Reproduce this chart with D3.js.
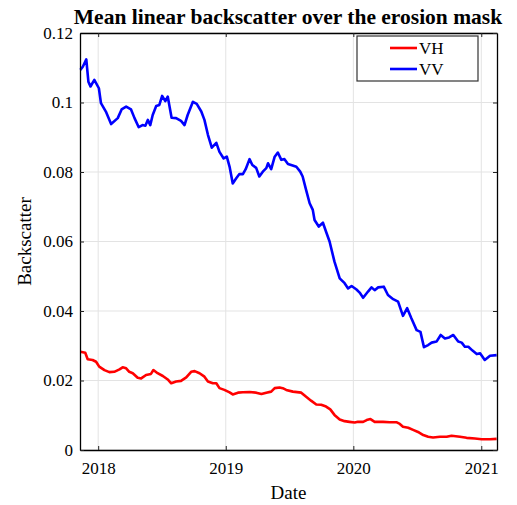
<!DOCTYPE html>
<html>
<head>
<meta charset="utf-8">
<script src="https://cdn.jsdelivr.net/npm/d3@7"></script>
<style>
  body { margin: 0; background: #fff; }
  svg { font-family: "Liberation Serif", "Times New Roman", serif; }
</style>
</head>
<body>
<div id="container"></div>
<script>
// series
const vhDates = ["2017-11-11","2017-11-25","2017-12-02","2017-12-16","2017-12-26","2018-01-04","2018-01-19","2018-02-02","2018-02-16","2018-03-03","2018-03-12","2018-03-22","2018-03-31","2018-04-10","2018-04-24","2018-05-04","2018-05-18","2018-06-01","2018-06-08","2018-06-20","2018-07-05","2018-07-19","2018-07-29","2018-08-12","2018-08-26","2018-09-10","2018-09-24","2018-10-04","2018-10-18","2018-11-01","2018-11-11","2018-11-25","2018-12-05","2018-12-14","2018-12-28","2019-01-12","2019-01-21","2019-02-05","2019-02-19","2019-03-10","2019-03-29","2019-04-13","2019-04-27","2019-05-11","2019-05-21","2019-06-04","2019-06-13","2019-06-23","2019-07-12","2019-08-05","2019-08-19","2019-09-02","2019-09-17","2019-10-01","2019-10-15","2019-10-27","2019-11-08","2019-11-23","2019-12-07","2019-12-21","2020-01-05","2020-01-14","2020-01-29","2020-02-08","2020-02-19","2020-03-02","2020-03-26","2020-04-14","2020-05-03","2020-05-13","2020-05-22","2020-06-06","2020-06-20","2020-07-04","2020-07-19","2020-08-02","2020-08-16","2020-09-05","2020-09-24","2020-10-08","2020-11-01","2020-11-20","2020-12-14","2021-01-02","2021-01-26","2021-02-14"];
const vhValues = [0.0283,0.0280,0.0261,0.0259,0.0254,0.0240,0.0230,0.0224,0.0225,0.0232,0.0238,0.0235,0.0225,0.0221,0.0208,0.0206,0.0216,0.0219,0.0230,0.0221,0.0213,0.0203,0.0192,0.0197,0.0199,0.0209,0.0225,0.0227,0.0221,0.0211,0.0197,0.0192,0.0192,0.0178,0.0173,0.0166,0.0160,0.0165,0.0166,0.0167,0.0165,0.0161,0.0165,0.0168,0.0178,0.0180,0.0178,0.0173,0.0168,0.0165,0.0153,0.0142,0.0131,0.0130,0.0125,0.0117,0.0101,0.0088,0.0083,0.0081,0.0079,0.0081,0.0081,0.0086,0.0089,0.0081,0.0081,0.0080,0.0080,0.0075,0.0067,0.0064,0.0058,0.0052,0.0043,0.0038,0.0036,0.0038,0.0038,0.0041,0.0038,0.0035,0.0033,0.0031,0.0031,0.0032];

const vvDates = ["2017-11-11","2017-11-18","2017-11-28","2017-12-04","2017-12-10","2017-12-21","2018-01-03","2018-01-09","2018-01-23","2018-02-07","2018-02-26","2018-03-09","2018-03-22","2018-04-05","2018-04-15","2018-04-27","2018-05-08","2018-05-16","2018-05-23","2018-05-30","2018-06-06","2018-06-16","2018-06-25","2018-07-03","2018-07-12","2018-07-19","2018-07-30","2018-08-12","2018-08-26","2018-09-05","2018-09-14","2018-09-29","2018-10-10","2018-10-23","2018-11-01","2018-11-11","2018-11-22","2018-12-05","2018-12-14","2018-12-26","2019-01-04","2019-01-12","2019-01-21","2019-01-31","2019-02-09","2019-02-19","2019-02-27","2019-03-10","2019-03-18","2019-03-29","2019-04-07","2019-04-17","2019-04-27","2019-05-02","2019-05-11","2019-05-21","2019-05-30","2019-06-09","2019-06-18","2019-06-28","2019-07-07","2019-07-22","2019-08-02","2019-08-09","2019-08-19","2019-08-29","2019-09-07","2019-09-12","2019-09-24","2019-10-06","2019-10-15","2019-10-25","2019-11-08","2019-11-23","2019-12-07","2019-12-17","2019-12-27","2020-01-10","2020-01-19","2020-01-29","2020-02-12","2020-02-22","2020-03-02","2020-03-12","2020-03-28","2020-04-09","2020-04-24","2020-05-08","2020-05-22","2020-06-03","2020-06-15","2020-06-30","2020-07-11","2020-07-21","2020-08-02","2020-08-12","2020-08-26","2020-09-07","2020-09-19","2020-10-01","2020-10-13","2020-10-27","2020-11-06","2020-11-15","2020-11-25","2020-12-07","2020-12-19","2020-12-29","2021-01-11","2021-01-26","2021-02-14"];
const vvValues = [0.1094,0.1103,0.1124,0.1060,0.1046,0.1065,0.1041,0.0998,0.0974,0.0938,0.0955,0.0980,0.0988,0.0980,0.0955,0.0929,0.0935,0.0933,0.0950,0.0935,0.0964,0.0990,0.0993,0.1019,0.1004,0.1017,0.0956,0.0955,0.0947,0.0935,0.0964,0.1002,0.0996,0.0974,0.0950,0.0907,0.0870,0.0884,0.0858,0.0839,0.0844,0.0815,0.0767,0.0782,0.0794,0.0794,0.0808,0.0837,0.0820,0.0812,0.0787,0.0801,0.0811,0.0825,0.0808,0.0844,0.0856,0.0835,0.0837,0.0823,0.0820,0.0815,0.0801,0.0787,0.0748,0.0710,0.0691,0.0662,0.0643,0.0654,0.0628,0.0600,0.0542,0.0494,0.0480,0.0465,0.0472,0.0462,0.0453,0.0438,0.0456,0.0468,0.0460,0.0468,0.0470,0.0446,0.0434,0.0427,0.0386,0.0408,0.0379,0.0345,0.0340,0.0296,0.0302,0.0309,0.0312,0.0331,0.0321,0.0324,0.0331,0.0312,0.0309,0.0297,0.0297,0.0286,0.0276,0.0278,0.0259,0.0271,0.0273];

const yTicks = [0, 0.02, 0.04, 0.06, 0.08, 0.1, 0.12];
const yTickLabels = ["0", "0.02", "0.04", "0.06", "0.08", "0.1", "0.12"];
const xTickYears = ["2018", "2019", "2020", "2021"];
const seriesNames = ["VH", "VV"];
const seriesColors = ["#ff0000", "#0000ff"];
const xDomain = ["2017-11-10", "2021-02-15"];

const width = 517, height = 505;
const margin = {top: 33, right: 20, bottom: 55, left: 80};
const parse = d3.utcParse("%Y-%m-%d");

const x = d3.scaleUtc()
  .domain(xDomain.map(parse))
  .range([margin.left, width - margin.right]);
const y = d3.scaleLinear()
  .domain([0, 0.12])
  .range([height - margin.bottom, margin.top]);

const xTickDates = xTickYears.map(yr => parse(yr + "-01-01"));

const svg = d3.select("#container").append("svg")
  .attr("width", width)
  .attr("height", height);

// grid
const grid = svg.append("g").attr("stroke", "#e3e3e3").attr("stroke-width", 1);
grid.selectAll(".gx").data(xTickDates).join("line")
  .attr("x1", d => x(d)).attr("x2", d => x(d))
  .attr("y1", y(0)).attr("y2", y(0.12));
grid.selectAll(".gy").data(yTicks).join("line")
  .attr("x1", x.range()[0]).attr("x2", x.range()[1])
  .attr("y1", d => y(d)).attr("y2", d => y(d));

// lines
const line = d3.line()
  .x(d => x(d.date))
  .y(d => y(d.value));

const series = [
  vhDates.map((d, i) => ({date: parse(d), value: vhValues[i]})),
  vvDates.map((d, i) => ({date: parse(d), value: vvValues[i]}))
];

svg.append("g").selectAll("path").data(series).join("path")
  .attr("fill", "none")
  .attr("stroke", (d, i) => seriesColors[i])
  .attr("stroke-width", 2.6)
  .attr("stroke-linejoin", "round")
  .attr("d", line);

// axes with inward ticks, MATLAB style
const tickLen = 4;
const xAxis = d3.axisBottom(x).tickValues(xTickDates).tickFormat(d3.utcFormat("%Y"))
  .tickSizeInner(-tickLen).tickSizeOuter(0).tickPadding(12);
const yAxis = d3.axisLeft(y).tickValues(yTicks).tickFormat((d, i) => yTickLabels[i])
  .tickSizeInner(-tickLen).tickSizeOuter(0).tickPadding(7);

const gx = svg.append("g")
  .attr("transform", `translate(0,${y(0)})`)
  .call(xAxis);
const gy = svg.append("g")
  .attr("transform", `translate(${x.range()[0]},0)`)
  .call(yAxis);
svg.append("g")
  .attr("transform", `translate(0,${y(0.12)})`)
  .call(d3.axisTop(x).tickValues(xTickDates).tickFormat("").tickSizeInner(-tickLen).tickSizeOuter(0));
svg.append("g")
  .attr("transform", `translate(${x.range()[1]},0)`)
  .call(d3.axisRight(y).tickValues(yTicks).tickFormat("").tickSizeInner(-tickLen).tickSizeOuter(0));

svg.selectAll(".domain").attr("stroke", "#000").attr("stroke-width", 1.3);
svg.selectAll(".tick line").attr("stroke", "#222");
[gx, gy].forEach(g => g.selectAll("text")
  .attr("font-family", "Liberation Serif, serif")
  .attr("font-size", 17)
  .attr("fill", "#000"));

// titles
svg.append("text")
  .attr("x", 288)
  .attr("y", 24)
  .attr("text-anchor", "middle")
  .attr("font-weight", "bold")
  .attr("font-size", 21.5)
  .text("Mean linear backscatter over the erosion mask");

svg.append("text")
  .attr("x", (x.range()[0] + x.range()[1]) / 2)
  .attr("y", 499)
  .attr("text-anchor", "middle")
  .attr("font-size", 19)
  .text("Date");

svg.append("text")
  .attr("transform", `translate(31,${(y(0) + y(0.12)) / 2}) rotate(-90)`)
  .attr("text-anchor", "middle")
  .attr("font-size", 19)
  .text("Backscatter");

// legend
const legend = svg.append("g").attr("transform", "translate(357,36)");
legend.append("rect")
  .attr("width", 121).attr("height", 45)
  .attr("fill", "#fff").attr("stroke", "#333").attr("stroke-width", 1.2);
const item = legend.selectAll(".item").data(seriesNames).join("g")
  .attr("transform", (d, i) => `translate(0,${12 + i * 21})`);
item.append("line")
  .attr("x1", 33).attr("x2", 60)
  .attr("stroke", (d, i) => seriesColors[i])
  .attr("stroke-width", 2.6);
item.append("text")
  .attr("x", 62).attr("dy", "0.35em")
  .attr("font-size", 17)
  .text(d => d);
</script>
</body>
</html>
